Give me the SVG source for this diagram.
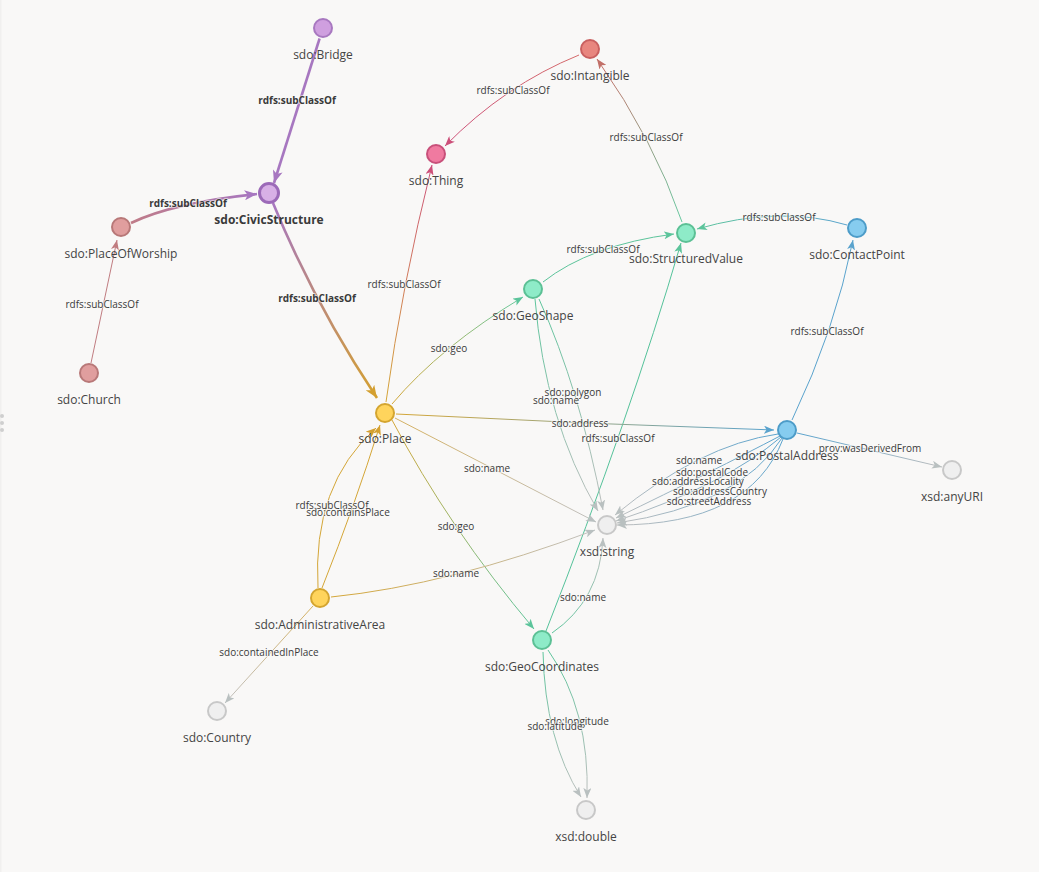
<svg xmlns="http://www.w3.org/2000/svg" width="1039" height="872" viewBox="0 0 1039 872">
<style>
.nl{font-family:"Open Sans","Liberation Sans",sans-serif;font-size:12px;fill:#444;text-anchor:middle}
.nb{font-weight:bold;fill:#3a3a3a}
.el{font-family:"Open Sans","Liberation Sans",sans-serif;font-size:10px;fill:#3a3a3a;text-anchor:middle;paint-order:stroke;stroke:#f9f8f7;stroke-width:2;stroke-opacity:.6}
.elb{font-weight:bold}
.e{fill:none;stroke-width:1}
.eb{fill:none;stroke-width:2.6}
.purple{fill:#cf9fdf;stroke:#a878c0;stroke-width:2}
.civic{fill:#d8b0e6;stroke:#9c6ab8;stroke-width:3}
.rose{fill:#e09e9e;stroke:#b87878;stroke-width:2}
.red{fill:#e8867f;stroke:#c96060;stroke-width:2}
.pink{fill:#f07aa0;stroke:#c8507a;stroke-width:2}
.green{fill:#8eebc8;stroke:#5cc095;stroke-width:2}
.blue{fill:#86ccef;stroke:#4d9cc8;stroke-width:2}
.gold{fill:#ffd45c;stroke:#d4a530;stroke-width:2}
.grey{fill:#efefef;stroke:#c8c8c8;stroke-width:2}
</style>
<defs>
<marker id="mPurpleB" viewBox="0 0 10 8" refX="10" refY="4" markerWidth="13" markerHeight="10" orient="auto" markerUnits="userSpaceOnUse"><path d="M0,0 L10,4 L0,8 L2.5,4 Z" fill="#a777c0"/></marker>
<marker id="mGoldB" viewBox="0 0 10 8" refX="10" refY="4" markerWidth="13" markerHeight="10" orient="auto" markerUnits="userSpaceOnUse"><path d="M0,0 L10,4 L0,8 L2.5,4 Z" fill="#d4a030"/></marker>
<marker id="mGold" viewBox="0 0 10 8" refX="10" refY="4" markerWidth="10" markerHeight="8" orient="auto" markerUnits="userSpaceOnUse"><path d="M0,0 L10,4 L0,8 L2.5,4 Z" fill="#d4a030"/></marker>
<marker id="mGrey" viewBox="0 0 10 8" refX="10" refY="4" markerWidth="10" markerHeight="8" orient="auto" markerUnits="userSpaceOnUse"><path d="M0,0 L10,4 L0,8 L2.5,4 Z" fill="#b9c0c0"/></marker>
<marker id="mGreen" viewBox="0 0 10 8" refX="10" refY="4" markerWidth="10" markerHeight="8" orient="auto" markerUnits="userSpaceOnUse"><path d="M0,0 L10,4 L0,8 L2.5,4 Z" fill="#5cc49b"/></marker>
<marker id="mBlue" viewBox="0 0 10 8" refX="10" refY="4" markerWidth="10" markerHeight="8" orient="auto" markerUnits="userSpaceOnUse"><path d="M0,0 L10,4 L0,8 L2.5,4 Z" fill="#5aa3cd"/></marker>
<marker id="mPink" viewBox="0 0 10 8" refX="10" refY="4" markerWidth="10" markerHeight="8" orient="auto" markerUnits="userSpaceOnUse"><path d="M0,0 L10,4 L0,8 L2.5,4 Z" fill="#cc507a"/></marker>
<marker id="mRed" viewBox="0 0 10 8" refX="10" refY="4" markerWidth="10" markerHeight="8" orient="auto" markerUnits="userSpaceOnUse"><path d="M0,0 L10,4 L0,8 L2.5,4 Z" fill="#c27068"/></marker>
<marker id="mRose" viewBox="0 0 10 8" refX="10" refY="4" markerWidth="10" markerHeight="8" orient="auto" markerUnits="userSpaceOnUse"><path d="M0,0 L10,4 L0,8 L2.5,4 Z" fill="#c07c80"/></marker>
<linearGradient id="g1" gradientUnits="userSpaceOnUse" x1="131" y1="223" x2="257" y2="194"><stop offset="0" stop-color="#c07c88"/><stop offset="1" stop-color="#a777c0"/></linearGradient>
<linearGradient id="g2" gradientUnits="userSpaceOnUse" x1="273" y1="203" x2="377" y2="398"><stop offset="0" stop-color="#a777c0"/><stop offset="1" stop-color="#d4a030"/></linearGradient>
<linearGradient id="g3" gradientUnits="userSpaceOnUse" x1="579" y1="55" x2="445" y2="146"><stop offset="0" stop-color="#d46a6a"/><stop offset="1" stop-color="#cc507a"/></linearGradient>
<linearGradient id="g4" gradientUnits="userSpaceOnUse" x1="386" y1="402" x2="432" y2="165"><stop offset="0" stop-color="#d4a637"/><stop offset="1" stop-color="#cc507a"/></linearGradient>
<linearGradient id="g5" gradientUnits="userSpaceOnUse" x1="682" y1="222" x2="597" y2="59"><stop offset="0" stop-color="#66c9a0"/><stop offset="1" stop-color="#c96a64"/></linearGradient>
<linearGradient id="g6" gradientUnits="userSpaceOnUse" x1="847" y1="225" x2="697" y2="229"><stop offset="0" stop-color="#5aa3cd"/><stop offset="1" stop-color="#5cc49b"/></linearGradient>
<linearGradient id="g7" gradientUnits="userSpaceOnUse" x1="392" y1="404" x2="523" y2="297"><stop offset="0" stop-color="#d4a637"/><stop offset="1" stop-color="#66c9a0"/></linearGradient>
<linearGradient id="g8" gradientUnits="userSpaceOnUse" x1="392" y1="420" x2="534" y2="629"><stop offset="0" stop-color="#d4a637"/><stop offset="1" stop-color="#5cc49b"/></linearGradient>
<linearGradient id="g9" gradientUnits="userSpaceOnUse" x1="396" y1="414" x2="774" y2="430"><stop offset="0" stop-color="#d4a637"/><stop offset="1" stop-color="#5aa3cd"/></linearGradient>
<linearGradient id="g10" gradientUnits="userSpaceOnUse" x1="395" y1="418" x2="596" y2="522"><stop offset="0" stop-color="#d4b060"/><stop offset="1" stop-color="#c0c0c0"/></linearGradient>
<linearGradient id="g11" gradientUnits="userSpaceOnUse" x1="535" y1="299" x2="600" y2="511"><stop offset="0" stop-color="#5cc49b"/><stop offset="1" stop-color="#bdbdbd"/></linearGradient>
<linearGradient id="g12" gradientUnits="userSpaceOnUse" x1="780" y1="436" x2="616" y2="520"><stop offset="0" stop-color="#5aa3cd"/><stop offset="1" stop-color="#bdbdbd"/></linearGradient>
<linearGradient id="g13" gradientUnits="userSpaceOnUse" x1="797" y1="433" x2="942" y2="467"><stop offset="0" stop-color="#5aa3cd"/><stop offset="1" stop-color="#bdbdbd"/></linearGradient>
<linearGradient id="g14" gradientUnits="userSpaceOnUse" x1="331" y1="597" x2="595" y2="530"><stop offset="0" stop-color="#d4a637"/><stop offset="1" stop-color="#c0c0c0"/></linearGradient>
<linearGradient id="g15" gradientUnits="userSpaceOnUse" x1="313" y1="606" x2="225" y2="703"><stop offset="0" stop-color="#d4b060"/><stop offset="1" stop-color="#c0c0c0"/></linearGradient>
<linearGradient id="g16" gradientUnits="userSpaceOnUse" x1="552" y1="633" x2="603" y2="538"><stop offset="0" stop-color="#5cc49b"/><stop offset="1" stop-color="#bdbdbd"/></linearGradient>
<linearGradient id="g17" gradientUnits="userSpaceOnUse" x1="545" y1="650" x2="585" y2="798"><stop offset="0" stop-color="#5cc49b"/><stop offset="1" stop-color="#bdbdbd"/></linearGradient>
</defs>
<rect width="1039" height="872" fill="#f9f8f7"/>
<rect x="0" y="0" width="1.5" height="872" fill="#f1f0ef"/>
<g fill="#cfcfcf"><circle cx="2" cy="416" r="2"/><circle cx="2" cy="423" r="2"/><circle cx="2" cy="430" r="2"/></g>

<g id="connectors">
<path class="eb" d="M319.6,38.5 L274,183" stroke="#a777c0" marker-end="url(#mPurpleB)"/>
<path class="eb" d="M131,223 Q172,203 257,194" stroke="url(#g1)" marker-end="url(#mPurpleB)"/>
<path class="e" d="M91,363 L117,240" stroke="#c07c80" marker-end="url(#mRose)"/>
<path class="eb" d="M273,203 Q315,305 377,398" stroke="url(#g2)" stroke-width="2.8" marker-end="url(#mGoldB)"/>
<path class="e" d="M579,55 Q505,85 445,146" stroke="url(#g3)" marker-end="url(#mPink)"/>
<path class="e" d="M386,402 Q402,285 432,165" stroke="url(#g4)" marker-end="url(#mPink)"/>
<path class="e" d="M682,222 Q654,140 597,59" stroke="url(#g5)" marker-end="url(#mRed)"/>
<path class="e" d="M847,225 Q780,205 697,229" stroke="url(#g6)" marker-end="url(#mGreen)"/>
<path class="e" d="M543,282 Q590,245 674,234" stroke="#5cc49b" marker-end="url(#mGreen)"/>
<path class="e" d="M546,631 Q630,417 681,243" stroke="#55c29a" marker-end="url(#mGreen)"/>
<path class="e" d="M792,420 Q835,330 853,240" stroke="#5aa3cd" marker-end="url(#mBlue)"/>
<path class="e" d="M392,404 Q441,346 523,297" stroke="url(#g7)" marker-end="url(#mGreen)"/>
<path class="e" d="M392,420 Q449,528 534,629" stroke="url(#g8)" marker-end="url(#mGreen)"/>
<path class="e" d="M396,414 Q585,424 774,430" stroke="url(#g9)" marker-end="url(#mBlue)"/>
<path class="e" d="M395,418 L596,522" stroke="url(#g10)" marker-end="url(#mGrey)"/>
<path class="e" d="M535,299 Q545,420 598,511" stroke="url(#g11)" marker-end="url(#mGrey)"/>
<path class="e" d="M539,299 Q580,390 603,510" stroke="url(#g11)" marker-end="url(#mGrey)"/>
<path class="e" d="M778,434 Q700,445 615,515" stroke="url(#g12)" marker-end="url(#mGrey)"/>
<path class="e" d="M780,436 Q715,470 616,518" stroke="url(#g12)" marker-end="url(#mGrey)"/>
<path class="e" d="M781,437 Q725,485 616,521" stroke="url(#g12)" marker-end="url(#mGrey)"/>
<path class="e" d="M782,438 Q740,505 617,523" stroke="url(#g12)" marker-end="url(#mGrey)"/>
<path class="e" d="M783,439 Q750,525 617,525" stroke="url(#g12)" marker-end="url(#mGrey)"/>
<path class="e" d="M797,433 L942,467" stroke="url(#g13)" marker-end="url(#mGrey)"/>
<path class="e" d="M318,588 Q312,485 376,428" stroke="#d4a637" marker-end="url(#mGold)"/>
<path class="e" d="M322,588 Q355,505 380,425" stroke="#d4a637" marker-end="url(#mGold)"/>
<path class="e" d="M331,597 Q449,585 595,530" stroke="url(#g14)" marker-end="url(#mGrey)"/>
<path class="e" d="M313,606 L225,703" stroke="url(#g15)" marker-end="url(#mGrey)"/>
<path class="e" d="M552,633 Q600,600 603,538" stroke="url(#g16)" marker-end="url(#mGrey)"/>
<path class="e" d="M543,652 Q545,740 581,797" stroke="url(#g17)" marker-end="url(#mGrey)"/>
<path class="e" d="M548,650 Q590,710 587,798" stroke="url(#g17)" marker-end="url(#mGrey)"/>

<text class="el elb" x="297" y="104">rdfs:subClassOf</text>
<text class="el elb" x="188" y="207">rdfs:subClassOf</text>
<text class="el" x="102" y="308">rdfs:subClassOf</text>
<text class="el elb" x="317" y="302">rdfs:subClassOf</text>
<text class="el" x="513" y="94">rdfs:subClassOf</text>
<text class="el" x="404" y="288">rdfs:subClassOf</text>
<text class="el" x="646" y="141">rdfs:subClassOf</text>
<text class="el" x="779" y="221">rdfs:subClassOf</text>
<text class="el" x="603" y="253">rdfs:subClassOf</text>
<text class="el" x="618" y="442">rdfs:subClassOf</text>
<text class="el" x="827" y="335">rdfs:subClassOf</text>
<text class="el" x="449" y="352">sdo:geo</text>
<text class="el" x="456" y="530">sdo:geo</text>
<text class="el" x="580" y="427">sdo:address</text>
<text class="el" x="487" y="472">sdo:name</text>
<text class="el" x="573" y="396">sdo:polygon</text>
<text class="el" x="556" y="404">sdo:name</text>
<text class="el" x="699" y="464">sdo:name</text>
<text class="el" x="712" y="476">sdo:postalCode</text>
<text class="el" x="698" y="485">sdo:addressLocality</text>
<text class="el" x="720" y="495">sdo:addressCountry</text>
<text class="el" x="709" y="505">sdo:streetAddress</text>
<text class="el" x="870" y="452">prov:wasDerivedFrom</text>
<text class="el" x="332" y="509">rdfs:subClassOf</text>
<text class="el" x="348" y="516">sdo:containsPlace</text>
<text class="el" x="456" y="577">sdo:name</text>
<text class="el" x="269" y="656">sdo:containedInPlace</text>
<text class="el" x="583" y="601">sdo:name</text>
<text class="el" x="577" y="725">sdo:longitude</text>
<text class="el" x="555" y="730">sdo:latitude</text>
</g>

<g id="n-bridge"><circle class="purple" cx="323" cy="28" r="9"/><text class="nl" x="323" y="59">sdo:Bridge</text></g>
<g id="n-civic"><circle class="civic" cx="269" cy="193" r="9.5"/><text class="nl nb" x="269" y="224">sdo:CivicStructure</text></g>
<g id="n-worship"><circle class="rose" cx="121" cy="227" r="9"/><text class="nl" x="121" y="258">sdo:PlaceOfWorship</text></g>
<g id="n-church"><circle class="rose" cx="89" cy="373" r="9"/><text class="nl" x="89" y="404">sdo:Church</text></g>
<g id="n-intangible"><circle class="red" cx="590" cy="49" r="9"/><text class="nl" x="590" y="80">sdo:Intangible</text></g>
<g id="n-thing"><circle class="pink" cx="436" cy="154" r="9"/><text class="nl" x="436" y="185">sdo:Thing</text></g>
<g id="n-structured"><circle class="green" cx="686" cy="233" r="9"/><text class="nl" x="686" y="263">sdo:StructuredValue</text></g>
<g id="n-contact"><circle class="blue" cx="857" cy="228" r="9"/><text class="nl" x="857" y="259">sdo:ContactPoint</text></g>
<g id="n-geoshape"><circle class="green" cx="533" cy="289" r="9"/><text class="nl" x="533" y="320">sdo:GeoShape</text></g>
<g id="n-place"><circle class="gold" cx="385" cy="413" r="9"/><text class="nl" x="385" y="443">sdo:Place</text></g>
<g id="n-postal"><circle class="blue" cx="787" cy="430" r="9"/><text class="nl" x="787" y="460">sdo:PostalAddress</text></g>
<g id="n-anyuri"><circle class="grey" cx="952" cy="470" r="9"/><text class="nl" x="952" y="501">xsd:anyURI</text></g>
<g id="n-string"><circle class="grey" cx="607" cy="525" r="9"/><text class="nl" x="607" y="556">xsd:string</text></g>
<g id="n-admin"><circle class="gold" cx="320" cy="598" r="9"/><text class="nl" x="320" y="629">sdo:AdministrativeArea</text></g>
<g id="n-country"><circle class="grey" cx="217" cy="711" r="9"/><text class="nl" x="217" y="742">sdo:Country</text></g>
<g id="n-geocoord"><circle class="green" cx="542" cy="640" r="9"/><text class="nl" x="542" y="671">sdo:GeoCoordinates</text></g>
<g id="n-double"><circle class="grey" cx="586" cy="810" r="9"/><text class="nl" x="586" y="841">xsd:double</text></g>
</svg>
